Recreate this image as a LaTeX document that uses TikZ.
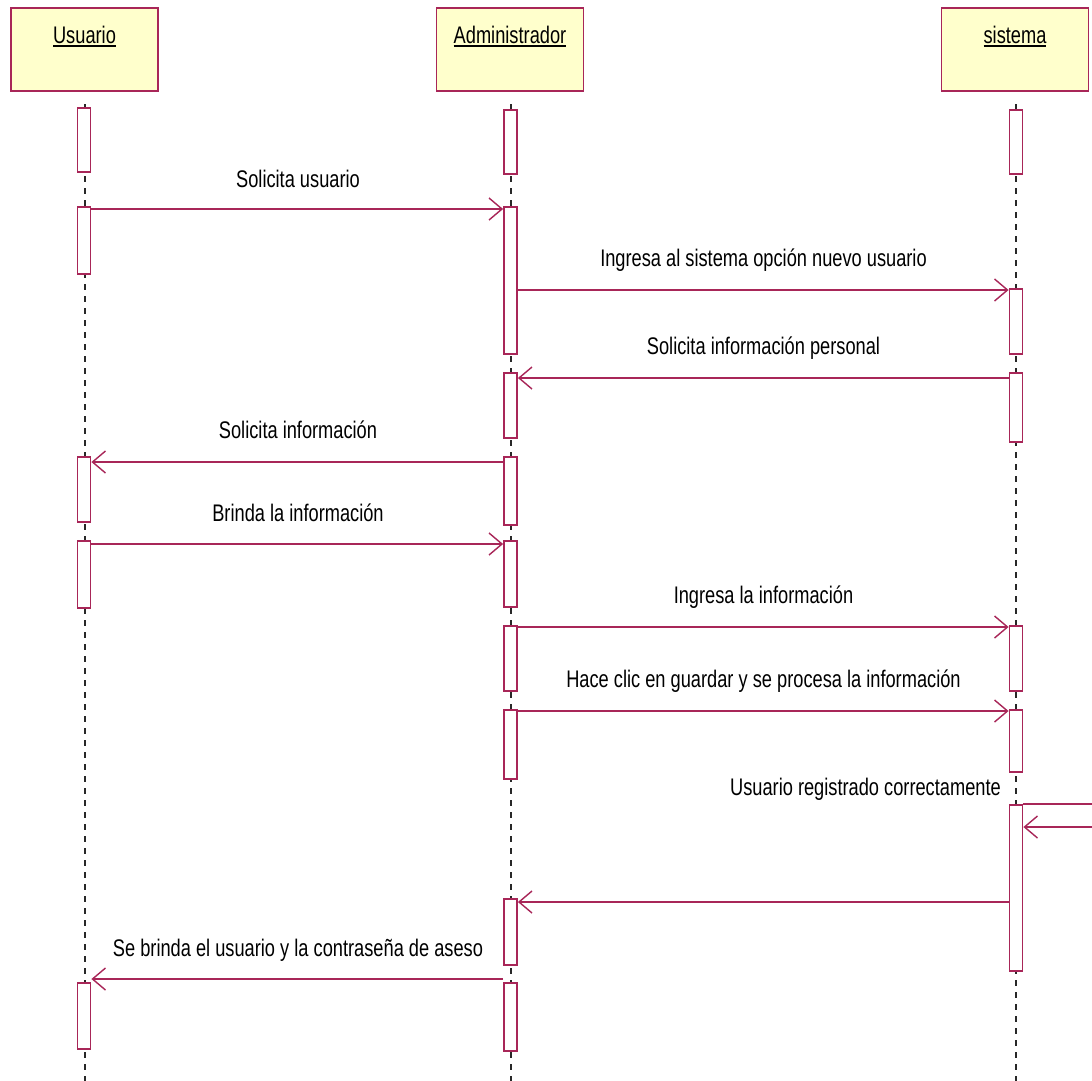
\documentclass[tikz,border=0pt]{standalone}
\usepackage{fontspec}
\setmainfont{Liberation Sans}[FakeStretch=0.76]
\usetikzlibrary{arrows.meta}
\definecolor{umlred}{RGB}{168,38,88}
\definecolor{umlfill}{RGB}{255,255,204}
\definecolor{lifegray}{RGB}{40,40,40}
\newcommand\hdrtext[1]{\setbox0\hbox{#1}\rlap{\rule[-3.8pt]{\wd0}{1.6pt}}\box0}
\tikzset{
  hdrbox/.style={draw=umlred, fill=umlfill, line width=1.8pt, minimum width=147pt, minimum height=83pt, inner sep=0pt},
  hdrlabel/.style={anchor=base, inner sep=0pt, font=\fontsize{24}{28}\selectfont},
  act/.style={draw=umlred, fill=white, line width=1.8pt, minimum width=13pt, inner sep=0pt},
  life/.style={draw=lifegray, line width=1.3pt, dash pattern=on 6pt off 6pt},
  msg/.style={draw=umlred, line width=1.8pt, -{Straight Barb[length=13pt,width=22pt,line width=1.4pt]}},
  msgl/.style={anchor=base, inner sep=0pt, font=\fontsize{24}{28}\selectfont},
}
\begin{document}
\begin{tikzpicture}[x=1pt,y=-1pt]
\useasboundingbox (0,0) rectangle (1092,1080);
\clip (0,0) rectangle (1092,1080);
\fill[white] (0,0) rectangle (1092,1080);

% headers
\node[hdrbox] (hu) at (84.5,49.5) {};
\node[hdrbox] (ha) at (510,49.5) {};
\node[hdrbox] (hs) at (1015,49.5) {};
\node[hdrlabel] (hut) at (hu.north |- 0,43) {\hdrtext{Usuario}};
\node[hdrlabel] (hat) at (ha.north |- 0,43) {\hdrtext{Administrador}};
\node[hdrlabel] (hst) at (hs.north |- 0,43) {\hdrtext{sistema}};

% lifelines
\coordinate (lu0) at (85,104);  \coordinate (lu1) at (85,1082);
\coordinate (la0) at (511,104); \coordinate (la1) at (511,1082);
\coordinate (ls0) at (1016,104);\coordinate (ls1) at (1016,1082);
\draw[life] (lu0) -- (lu1);
\draw[life] (la0) -- (la1);
\draw[life] (ls0) -- (ls1);

% activation boxes: Usuario
\node[act, minimum height=64pt] (u1) at (84,140) {};
\node[act, minimum height=67pt] (u2) at (84,240.5) {};
\node[act, minimum height=65pt] (u3) at (84,489.5) {};
\node[act, minimum height=67pt] (u4) at (84,574.5) {};
\node[act, minimum height=66pt] (u5) at (84,1016) {};
% Administrador
\node[act, minimum height=64pt] (a1) at (510.5,142) {};
\node[act, minimum height=147pt] (a2) at (510.5,280.5) {};
\node[act, minimum height=65pt] (a3) at (510.5,405.5) {};
\node[act, minimum height=68pt] (a4) at (510.5,491) {};
\node[act, minimum height=66pt] (a5) at (510.5,574) {};
\node[act, minimum height=65pt] (a6) at (510.5,658.5) {};
\node[act, minimum height=69pt] (a7) at (510.5,744.5) {};
\node[act, minimum height=66pt] (a8) at (510.5,932) {};
\node[act, minimum height=68pt] (a9) at (510.5,1017) {};
% sistema
\node[act, minimum height=64pt] (s1) at (1016,142) {};
\node[act, minimum height=65pt] (s2) at (1016,321.5) {};
\node[act, minimum height=69pt] (s3) at (1016,407.5) {};
\node[act, minimum height=65pt] (s4) at (1016,658.5) {};
\node[act, minimum height=62pt] (s5) at (1016,741) {};
\node[act, minimum height=166pt] (s6) at (1016,888) {};

% messages
\draw[msg] (u2.east |- 0,209) -- (a2.west |- 0,209);
\node[msgl] (m1) at (298,187) {Solicita usuario};

\draw[msg] (a2.east |- 0,290) -- (s2.west |- 0,290);
\node[msgl] (m2) at (763.5,266) {Ingresa al sistema opción nuevo usuario};

\draw[msg] (s3.west |- 0,378) -- (a3.east |- 0,378);
\node[msgl] (m3) at (763.5,354) {Solicita información personal};

\draw[msg] (a4.west |- 0,462) -- (u3.east |- 0,462);
\node[msgl] (m4) at (298,438) {Solicita información};

\draw[msg] (u4.east |- 0,544) -- (a5.west |- 0,544);
\node[msgl] (m5) at (298,521) {Brinda la información};

\draw[msg] (a6.east |- 0,627) -- (s4.west |- 0,627);
\node[msgl] (m6) at (763.5,603) {Ingresa la información};

\draw[msg] (a7.east |- 0,711) -- (s5.west |- 0,711);
\node[msgl] (m7) at (763.5,687) {Hace clic en guardar y se procesa la información};

\draw[msg] (s6.north east) -- ++(100,0) |- (s6.east |- 0,827);
\node[msgl, anchor=base east] (m8) at (1001,795) {Usuario registrado correctamente};

\draw[msg] (s6.west |- 0,902) -- (a8.east |- 0,902);

\draw[msg] (a9.west |- 0,979) -- (u5.east |- 0,979);
\node[msgl] (m10) at (298,956) {Se brinda el usuario y la contraseña de aseso};
\end{tikzpicture}
\end{document}
